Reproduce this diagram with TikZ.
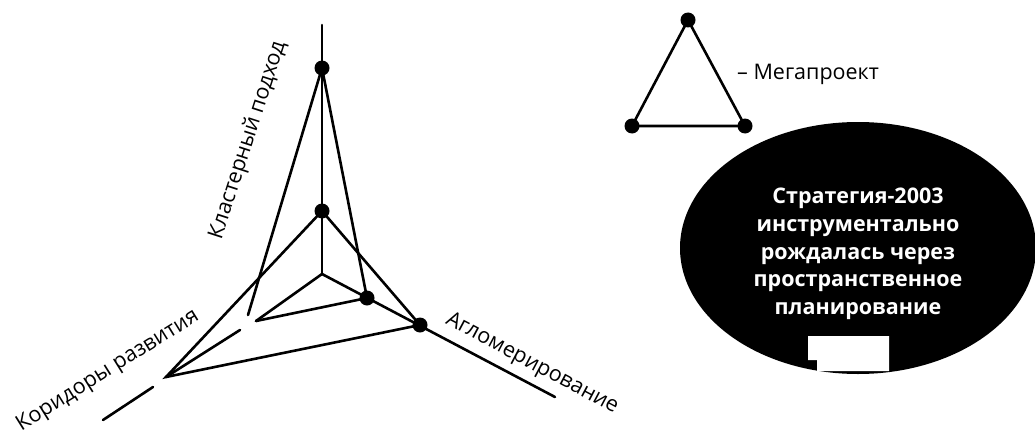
\documentclass[tikz,border=0pt]{standalone}
\usepackage{fontspec}
\setmainfont{Open Sans}
\begin{document}
\begin{tikzpicture}[x=1pt,y=-1pt,
  ln/.style={line width=2.6pt,line cap=round},
  dot/.style={circle,fill=black,inner sep=0pt,minimum size=15pt},
  axlabel/.style={font=\fontsize{21.5}{25}\selectfont,inner sep=0pt},
  ovaltext/.style={font=\bfseries\fontsize{21.5}{27.7}\selectfont,text=white,align=center,inner sep=0pt}]
\useasboundingbox (0,0) rectangle (1035,436);
% axis points
\coordinate (O) at (322,274);
\coordinate (T) at (322,25);
\coordinate (V1) at (322,68);
\coordinate (V2) at (322,211);
\coordinate (R1) at (367,298);
\coordinate (R2) at (420,325);
\coordinate (RE) at (555,397);
\coordinate (L1) at (256,321);
\coordinate (L1v) at (248,315);
\coordinate (G1) at (240,330);
\coordinate (L2) at (166,377);
\coordinate (G2) at (153,387);
\coordinate (LE) at (103,420);
% axes
\draw[ln] (T) -- (O);
\draw[ln] (O) -- (RE);
\draw[ln] (O) -- (L1);
\draw[ln] (G1) -- (L2);
\draw[ln] (G2) -- (LE);
% megaproject triangles
\draw[ln] (V1) -- (R1) -- (L1);
\draw[ln] (V1) -- (L1v);
\draw[ln] (V2) -- (R2) -- (L2) -- cycle;
\node[dot] (d1) at (V1) {};
\node[dot] (d2) at (V2) {};
\node[dot] (d3) at (R1) {};
\node[dot] (d4) at (R2) {};
% axis labels
\node[axlabel,rotate=72] (lk) at (248,140) {Кластерный подход};
\node[axlabel,rotate=32] (lc) at (108,371) {Коридоры развития};
\node[axlabel,rotate=-28] (la) at (532,364) {Агломерирование};
% legend
\coordinate (LT) at (688,20);
\coordinate (LBL) at (632,126);
\coordinate (LBR) at (745,126);
\draw[ln] (LT) -- (LBR) -- (LBL) -- cycle;
\node[dot] (m1) at (LT) {};
\node[dot] (m2) at (LBL) {};
\node[dot] (m3) at (LBR) {};
\node[axlabel,anchor=west] (leg) at (737,74) {– Мегапроект};
% oval
\fill[black] (858,248) ellipse [x radius=178, y radius=126];
\node[ovaltext] (ot) at (858,254) {Стратегия-2003\\инструментально\\рождалась через\\пространственное\\планирование};
\fill[white] (808,336) -- (889,336) -- (889,371) -- (817,371) -- (817,360) -- (808,360) -- cycle;
\end{tikzpicture}
\end{document}
